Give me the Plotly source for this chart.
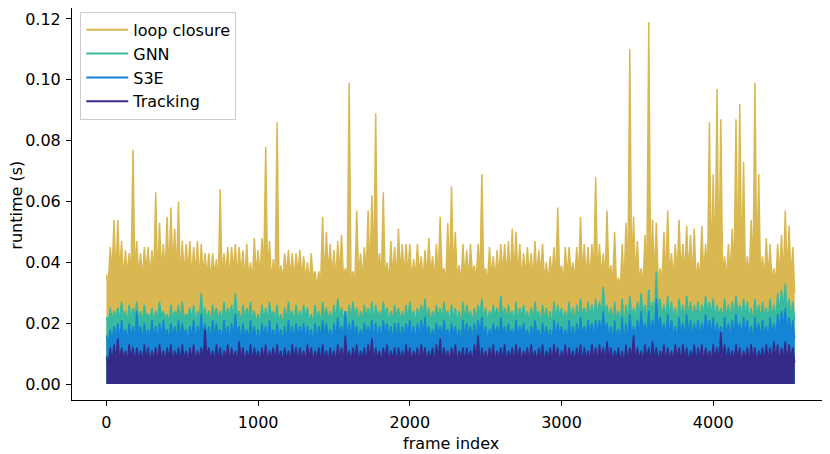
import numpy as np
import plotly.graph_objects as go

# frame index of each sampled high point (one every 25 frames)
frames = list(range(0, 4550, 25))

# loop closure: spike tops and solid-core level (s)
loop_hi = [
    0.036,0.045,0.054,0.054,0.047,0.044,0.043,0.077,0.047,0.043,0.045,0.045,0.044,0.063,0.053,0.046,0.055,0.058,0.051,0.060,0.047,0.046,0.047,0.045,0.047,
    0.046,0.043,0.043,0.043,0.041,0.064,0.043,0.045,0.045,0.046,0.045,0.044,0.046,0.040,0.048,0.044,0.048,0.078,0.047,0.041,0.086,0.039,0.043,0.044,0.043,0.043,
    0.044,0.042,0.040,0.043,0.037,0.037,0.055,0.050,0.046,0.044,0.047,0.049,0.038,0.099,0.037,0.057,0.043,0.045,0.057,0.062,0.089,0.043,0.063,0.040,0.047,0.045,
    0.051,0.046,0.046,0.046,0.041,0.046,0.042,0.044,0.048,0.042,0.046,0.055,0.038,0.053,0.065,0.050,0.039,0.046,0.044,0.046,0.039,0.046,0.069,0.038,0.045,0.042,0.044,
    0.046,0.046,0.047,0.051,0.050,0.046,0.043,0.045,0.043,0.047,0.044,0.046,0.040,0.042,0.045,0.058,0.039,0.045,0.045,0.040,0.045,0.055,0.046,0.045,0.046,0.068,
    0.046,0.043,0.057,0.039,0.050,0.035,0.046,0.053,0.110,0.055,0.047,0.038,0.049,0.119,0.054,0.053,0.038,0.050,0.057,0.043,0.046,0.054,0.046,0.052,0.049,0.051,
    0.040,0.052,0.046,0.086,0.069,0.097,0.087,0.042,0.046,0.051,0.087,0.092,0.073,0.042,0.054,0.099,0.069,0.042,0.048,0.046,0.038,0.046,0.049,0.057,0.052,0.045,
]
loop_lo = [
    0.033,0.036,0.035,0.037,0.034,0.036,0.035,0.037,0.036,0.034,0.037,0.035,0.036,0.034,0.037,0.036,0.035,0.038,0.036,0.034,0.036,0.037,0.035,0.036,0.034,
    0.036,0.035,0.034,0.036,0.033,0.035,0.036,0.034,0.037,0.035,0.036,0.034,0.035,0.033,0.036,0.035,0.037,0.036,0.034,0.033,0.035,0.034,0.036,0.035,0.034,0.036,
    0.035,0.034,0.033,0.035,0.032,0.033,0.034,0.036,0.035,0.034,0.036,0.035,0.033,0.034,0.032,0.035,0.034,0.036,0.035,0.037,0.036,0.034,0.035,0.033,0.035,0.034,
    0.036,0.035,0.036,0.034,0.035,0.036,0.034,0.035,0.036,0.034,0.035,0.037,0.033,0.035,0.036,0.035,0.033,0.035,0.034,0.036,0.034,0.035,0.036,0.033,0.035,0.034,0.035,
    0.036,0.035,0.034,0.036,0.035,0.034,0.035,0.036,0.034,0.035,0.036,0.034,0.033,0.035,0.034,0.036,0.033,0.035,0.036,0.034,0.035,0.036,0.035,0.034,0.036,0.035,
    0.035,0.034,0.035,0.033,0.032,0.031,0.032,0.034,0.036,0.035,0.034,0.032,0.035,0.036,0.035,0.034,0.033,0.035,0.036,0.034,0.035,0.036,0.035,0.036,0.035,0.034,
    0.034,0.036,0.035,0.036,0.037,0.036,0.035,0.034,0.036,0.035,0.037,0.036,0.035,0.034,0.036,0.037,0.035,0.034,0.035,0.034,0.033,0.035,0.034,0.036,0.035,0.030,
]

# GNN
gnn_hi = [
    0.022,0.025,0.024,0.025,0.027,0.024,0.026,0.025,0.027,0.024,0.026,0.023,0.025,0.024,0.027,0.024,0.023,0.026,0.024,0.026,0.027,0.023,0.025,0.026,0.024,
    0.030,0.025,0.024,0.026,0.025,0.024,0.027,0.025,0.026,0.030,0.024,0.026,0.025,0.027,0.024,0.023,0.026,0.025,0.027,0.024,0.026,0.023,0.025,0.027,0.024,0.026,
    0.024,0.026,0.025,0.023,0.026,0.024,0.027,0.025,0.024,0.026,0.028,0.025,0.024,0.026,0.027,0.025,0.024,0.026,0.025,0.027,0.026,0.024,0.027,0.025,0.024,0.026,
    0.025,0.024,0.026,0.027,0.024,0.025,0.026,0.028,0.025,0.024,0.026,0.025,0.027,0.024,0.026,0.025,0.024,0.027,0.026,0.024,0.025,0.026,0.028,0.025,0.024,0.026,0.025,
    0.029,0.025,0.026,0.024,0.027,0.025,0.026,0.024,0.025,0.027,0.024,0.026,0.025,0.024,0.027,0.026,0.025,0.024,0.027,0.025,0.026,0.028,0.025,0.027,0.026,0.028,
    0.027,0.032,0.026,0.025,0.027,0.024,0.028,0.026,0.029,0.025,0.027,0.030,0.026,0.031,0.027,0.037,0.028,0.026,0.029,0.027,0.025,0.028,0.026,0.029,0.027,0.026,
    0.027,0.026,0.029,0.027,0.028,0.026,0.025,0.028,0.026,0.027,0.029,0.026,0.028,0.027,0.025,0.028,0.026,0.027,0.025,0.028,0.026,0.030,0.031,0.033,0.028,0.027,
]
gnn_lo = [
    0.020,0.021,0.022,0.021,0.022,0.020,0.021,0.022,0.021,0.020,0.022,0.021,0.020,0.021,0.022,0.021,0.020,0.021,0.022,0.020,0.021,0.022,0.021,0.020,0.021,
    0.022,0.021,0.020,0.022,0.021,0.020,0.021,0.022,0.021,0.022,0.020,0.021,0.022,0.021,0.020,0.019,0.021,0.020,0.022,0.021,0.020,0.019,0.021,0.022,0.020,0.021,
    0.021,0.022,0.020,0.019,0.021,0.020,0.022,0.021,0.020,0.021,0.022,0.021,0.020,0.021,0.022,0.020,0.021,0.022,0.021,0.020,0.022,0.021,0.022,0.020,0.021,0.022,
    0.021,0.020,0.021,0.022,0.020,0.021,0.022,0.021,0.020,0.021,0.022,0.021,0.022,0.020,0.021,0.020,0.019,0.021,0.022,0.020,0.021,0.022,0.021,0.020,0.021,0.022,0.021,
    0.022,0.021,0.022,0.020,0.021,0.022,0.021,0.020,0.021,0.022,0.020,0.021,0.020,0.019,0.021,0.022,0.021,0.020,0.021,0.020,0.021,0.022,0.021,0.022,0.021,0.022,
    0.022,0.023,0.021,0.020,0.021,0.020,0.019,0.020,0.022,0.021,0.022,0.023,0.021,0.023,0.022,0.024,0.022,0.021,0.022,0.021,0.020,0.022,0.021,0.022,0.021,0.022,
    0.021,0.022,0.023,0.022,0.021,0.022,0.021,0.022,0.021,0.022,0.023,0.021,0.022,0.021,0.020,0.022,0.021,0.022,0.021,0.022,0.021,0.023,0.024,0.023,0.022,0.021,
]

# S3E
s3e_hi = [
    0.016,0.018,0.019,0.020,0.021,0.018,0.020,0.019,0.024,0.019,0.020,0.018,0.021,0.019,0.020,0.021,0.018,0.020,0.019,0.021,0.020,0.018,0.019,0.021,0.019,
    0.023,0.020,0.019,0.021,0.020,0.018,0.021,0.019,0.020,0.023,0.019,0.020,0.018,0.021,0.019,0.018,0.020,0.019,0.021,0.018,0.020,0.018,0.019,0.021,0.019,0.020,
    0.019,0.020,0.019,0.018,0.020,0.019,0.021,0.020,0.018,0.020,0.022,0.019,0.024,0.020,0.021,0.019,0.018,0.020,0.019,0.021,0.020,0.019,0.021,0.020,0.019,0.020,
    0.020,0.019,0.020,0.021,0.019,0.020,0.021,0.022,0.019,0.018,0.020,0.019,0.021,0.018,0.020,0.019,0.018,0.021,0.020,0.019,0.020,0.021,0.022,0.019,0.018,0.020,0.019,
    0.022,0.019,0.020,0.018,0.021,0.019,0.020,0.018,0.019,0.021,0.018,0.020,0.019,0.018,0.021,0.020,0.019,0.018,0.021,0.019,0.020,0.022,0.019,0.021,0.020,0.021,
    0.021,0.024,0.020,0.019,0.021,0.018,0.022,0.020,0.023,0.019,0.021,0.024,0.020,0.024,0.021,0.028,0.022,0.020,0.023,0.021,0.019,0.022,0.020,0.023,0.021,0.020,
    0.021,0.020,0.023,0.021,0.022,0.020,0.019,0.022,0.020,0.021,0.023,0.020,0.022,0.021,0.019,0.022,0.020,0.021,0.019,0.022,0.020,0.023,0.024,0.025,0.022,0.021,
]
s3e_lo = [
    0.013,0.014,0.015,0.014,0.015,0.014,0.015,0.014,0.016,0.014,0.015,0.014,0.015,0.014,0.015,0.016,0.014,0.015,0.014,0.015,0.016,0.014,0.015,0.014,0.015,
    0.016,0.015,0.014,0.015,0.016,0.014,0.015,0.014,0.015,0.016,0.014,0.015,0.014,0.015,0.014,0.013,0.015,0.014,0.015,0.014,0.015,0.013,0.014,0.015,0.014,0.015,
    0.015,0.014,0.015,0.013,0.014,0.015,0.016,0.015,0.014,0.015,0.016,0.015,0.014,0.015,0.016,0.014,0.015,0.016,0.015,0.014,0.015,0.014,0.016,0.015,0.014,0.015,
    0.014,0.015,0.016,0.015,0.014,0.015,0.016,0.015,0.014,0.015,0.016,0.015,0.016,0.014,0.015,0.014,0.013,0.015,0.016,0.014,0.015,0.016,0.015,0.014,0.015,0.016,0.015,
    0.016,0.015,0.016,0.014,0.015,0.016,0.015,0.014,0.015,0.016,0.014,0.015,0.014,0.013,0.015,0.016,0.015,0.014,0.015,0.014,0.015,0.016,0.015,0.016,0.015,0.016,
    0.016,0.017,0.015,0.014,0.015,0.014,0.013,0.014,0.016,0.015,0.016,0.017,0.015,0.017,0.016,0.018,0.016,0.015,0.016,0.015,0.014,0.016,0.015,0.016,0.015,0.016,
    0.015,0.016,0.017,0.016,0.015,0.016,0.015,0.016,0.015,0.016,0.017,0.015,0.016,0.015,0.014,0.016,0.015,0.016,0.015,0.016,0.015,0.017,0.018,0.017,0.016,0.015,
]

# Tracking
trk_hi = [
    0.009,0.012,0.013,0.015,0.012,0.011,0.013,0.012,0.012,0.011,0.013,0.012,0.011,0.012,0.013,0.011,0.012,0.013,0.011,0.012,0.013,0.011,0.012,0.013,0.011,
    0.012,0.018,0.012,0.011,0.013,0.012,0.011,0.013,0.012,0.011,0.014,0.012,0.011,0.013,0.012,0.011,0.012,0.013,0.011,0.012,0.013,0.011,0.012,0.011,0.013,0.012,
    0.012,0.011,0.013,0.012,0.011,0.012,0.013,0.011,0.012,0.011,0.013,0.012,0.016,0.011,0.012,0.013,0.011,0.012,0.013,0.015,0.012,0.011,0.012,0.013,0.011,0.012,
    0.012,0.011,0.013,0.012,0.011,0.012,0.013,0.012,0.011,0.012,0.013,0.015,0.012,0.011,0.012,0.013,0.011,0.012,0.012,0.011,0.013,0.016,0.012,0.011,0.012,0.013,0.011,
    0.012,0.013,0.011,0.012,0.013,0.012,0.011,0.012,0.013,0.011,0.012,0.013,0.011,0.012,0.013,0.012,0.011,0.013,0.012,0.011,0.012,0.013,0.012,0.011,0.013,0.012,
    0.013,0.012,0.014,0.012,0.011,0.012,0.011,0.013,0.012,0.016,0.012,0.011,0.013,0.012,0.014,0.012,0.011,0.013,0.012,0.011,0.013,0.012,0.013,0.012,0.011,0.013,
    0.012,0.013,0.012,0.011,0.013,0.012,0.017,0.013,0.012,0.011,0.013,0.012,0.011,0.012,0.013,0.012,0.011,0.012,0.013,0.012,0.014,0.013,0.012,0.014,0.013,0.012,
]
trk_lo = [
    0.006,0.007,0.008,0.007,0.008,0.007,0.008,0.007,0.008,0.007,0.008,0.007,0.008,0.007,0.008,0.007,0.008,0.007,0.008,0.007,0.008,0.007,0.008,0.007,0.008,
    0.008,0.009,0.008,0.007,0.008,0.007,0.008,0.007,0.008,0.007,0.008,0.007,0.008,0.007,0.008,0.007,0.008,0.007,0.008,0.007,0.008,0.007,0.008,0.007,0.008,0.007,
    0.008,0.007,0.008,0.007,0.008,0.007,0.008,0.007,0.008,0.007,0.008,0.007,0.008,0.007,0.008,0.007,0.008,0.007,0.008,0.007,0.008,0.007,0.008,0.007,0.008,0.007,
    0.008,0.007,0.008,0.007,0.008,0.007,0.008,0.007,0.008,0.007,0.008,0.007,0.008,0.007,0.008,0.007,0.008,0.007,0.008,0.007,0.008,0.007,0.008,0.007,0.008,0.007,0.008,
    0.008,0.007,0.008,0.007,0.008,0.007,0.008,0.007,0.008,0.007,0.008,0.007,0.008,0.007,0.008,0.007,0.008,0.007,0.008,0.007,0.008,0.007,0.008,0.007,0.008,0.007,
    0.008,0.007,0.008,0.007,0.008,0.007,0.006,0.007,0.008,0.007,0.008,0.007,0.008,0.007,0.008,0.007,0.008,0.007,0.008,0.007,0.008,0.007,0.008,0.007,0.008,0.007,
    0.008,0.007,0.008,0.007,0.008,0.007,0.008,0.007,0.008,0.007,0.008,0.007,0.008,0.007,0.008,0.007,0.008,0.007,0.008,0.007,0.008,0.007,0.008,0.007,0.008,0.007,
]

series_names = ["loop closure", "GNN", "S3E", "Tracking"]
series_hi = [loop_hi, gnn_hi, s3e_hi, trk_hi]
series_lo = [loop_lo, gnn_lo, s3e_lo, trk_lo]
colors = ["rgb(217,184,82)", "rgb(56,186,160)", "rgb(22,132,212)", "rgb(53,42,135)"]

x_hi = np.array(frames, dtype=float)
x = np.empty(2 * len(frames))
x[0::2] = x_hi
x[1::2] = x_hi + 12

fig = go.Figure()
for name, hi, lo, c in zip(series_names, series_hi, series_lo, colors):
    y = np.empty(2 * len(hi))
    y[0::2] = hi
    y[1::2] = lo
    fig.add_trace(go.Scatter(x=x, y=y, mode="lines", line=dict(color=c, width=1.5),
                             fill="tozeroy", fillcolor=c, showlegend=False,
                             hoverinfo="skip"))
for name, c in zip(series_names, colors):
    fig.add_trace(go.Scatter(x=[None], y=[None], mode="lines", name=name,
                             line=dict(color=c, width=2)))

font = "DejaVu Sans, sans-serif"
# the page body adds an 8px offset, so the figure is 822x446 with margins shifted
fig.update_layout(
    width=822, height=446,
    margin=dict(l=64, r=8, t=0, b=54),
    paper_bgcolor="white", plot_bgcolor="white",
    font=dict(family=font, size=16, color="black"),
    legend=dict(x=0.011, y=0.99, xanchor="left", yanchor="top",
                bgcolor="rgba(255,255,255,0.8)", bordercolor="#cccccc", borderwidth=1,
                font=dict(size=16), tracegroupgap=0, itemwidth=42),
    annotations=[
        dict(text="frame index", xref="paper", yref="paper", x=0.505, y=-0.11,
             xanchor="center", yanchor="middle", showarrow=False,
             font=dict(size=16, family=font, color="black")),
        dict(text="runtime (s)", xref="paper", yref="paper", x=-0.074, y=0.497,
             xanchor="center", yanchor="middle", showarrow=False, textangle=-90,
             font=dict(size=16, family=font, color="black")),
    ],
)
fig.update_xaxes(range=[-227, 4717], tickvals=[0, 1000, 2000, 3000, 4000],
                 automargin=False, ticklabelstandoff=3,
                 showline=True, mirror=True, linecolor="black", linewidth=1,
                 ticks="outside", ticklen=5, tickwidth=1, tickcolor="black",
                 showgrid=False, zeroline=False)
fig.update_yaxes(range=[-0.00526, 0.1236], tickvals=[0, 0.02, 0.04, 0.06, 0.08, 0.10, 0.12],
                 tickformat=".2f", automargin=False, ticklabelstandoff=2,
                 showline=True, mirror=True, linecolor="black", linewidth=1,
                 ticks="outside", ticklen=5, tickwidth=1, tickcolor="black",
                 showgrid=False, zeroline=False)

fig.write_html("out.html")
